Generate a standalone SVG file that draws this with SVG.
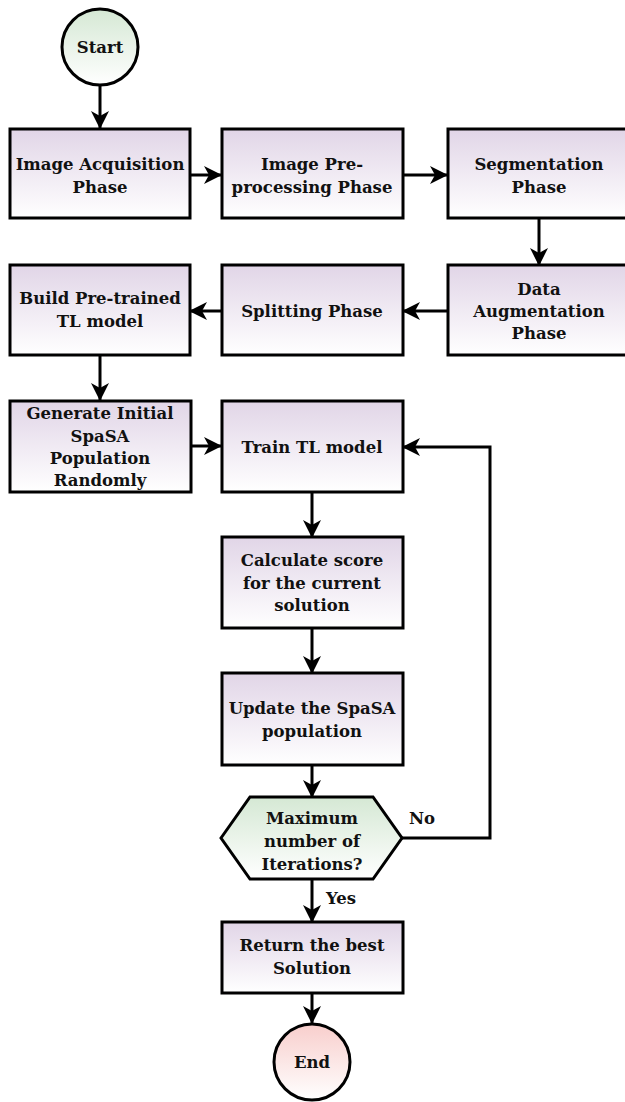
<svg xmlns="http://www.w3.org/2000/svg" width="625" height="1102" viewBox="0 0 625 1102">
<defs>
<linearGradient id="gP" x1="0" y1="0" x2="0" y2="1"><stop offset="0" stop-color="#e1d5e7"/><stop offset="1" stop-color="#ffffff"/></linearGradient>
<linearGradient id="gG" x1="0" y1="0" x2="0" y2="1"><stop offset="0" stop-color="#d5e8d4"/><stop offset="1" stop-color="#ffffff"/></linearGradient>
<linearGradient id="gR" x1="0" y1="0" x2="0" y2="1"><stop offset="0" stop-color="#f8cecc"/><stop offset="1" stop-color="#ffffff"/></linearGradient>
<marker id="ah" viewBox="0 0 18 18" refX="17" refY="9" markerWidth="18" markerHeight="18" markerUnits="userSpaceOnUse" orient="auto">
<path d="M0,0 L18,9 L0,18 L5,9 z" fill="#000"/>
</marker>
</defs>
<style>
.box{fill:url(#gP);stroke:#000;stroke-width:3}
.t{font-family:"DejaVu Serif","Liberation Serif",serif;font-weight:bold;font-size:16.5px;fill:#111;text-anchor:middle}
.c{fill:none;stroke:#000;stroke-width:3;marker-end:url(#ah)}
</style>
<g id="connectors">
<line class="c" x1="100" y1="85" x2="100" y2="128"/>
<line class="c" x1="190" y1="175" x2="221" y2="175"/>
<line class="c" x1="403" y1="175" x2="447" y2="175"/>
<line class="c" x1="539" y1="219" x2="539" y2="265"/>
<line class="c" x1="447" y1="311" x2="403" y2="311"/>
<line class="c" x1="221" y1="311" x2="190" y2="311"/>
<line class="c" x1="100" y1="355" x2="100" y2="400"/>
<line class="c" x1="191" y1="446" x2="221" y2="446"/>
<line class="c" x1="312" y1="492" x2="312" y2="537"/>
<line class="c" x1="312" y1="628" x2="312" y2="673"/>
<line class="c" x1="312" y1="765" x2="312" y2="797"/>
<line class="c" x1="312" y1="879" x2="312" y2="922"/>
<line class="c" x1="312" y1="993" x2="312" y2="1023"/>
<polyline class="c" points="402,838 490,838 490,447 403,447"/>
<text class="t" x="422" y="824">No</text>
<text class="t" x="341" y="904">Yes</text>
</g>
<g id="start">
<circle cx="100" cy="47" r="38" fill="url(#gG)" stroke="#000" stroke-width="3"/>
<text class="t" x="100" y="53">Start</text>
</g>
<g id="acq">
<rect class="box" x="10" y="129" width="180" height="89"/>
<text class="t" x="100" y="170">Image Acquisition</text>
<text class="t" x="100" y="193">Phase</text>
</g>
<g id="pre">
<rect class="box" x="222" y="129" width="181" height="89"/>
<text class="t" x="312" y="170">Image Pre-</text>
<text class="t" x="312" y="193">processing Phase</text>
</g>
<g id="seg">
<rect class="box" x="448" y="129" width="181" height="89"/>
<text class="t" x="539" y="170">Segmentation</text>
<text class="t" x="539" y="193">Phase</text>
</g>
<g id="aug">
<rect class="box" x="448" y="265" width="181" height="90"/>
<text class="t" x="539" y="295">Data</text>
<text class="t" x="539" y="317">Augmentation</text>
<text class="t" x="539" y="339">Phase</text>
</g>
<g id="split">
<rect class="box" x="222" y="265" width="181" height="90"/>
<text class="t" x="312" y="317">Splitting Phase</text>
</g>
<g id="build">
<rect class="box" x="10" y="265" width="180" height="90"/>
<text class="t" x="100" y="304">Build Pre-trained</text>
<text class="t" x="100" y="327">TL model</text>
</g>
<g id="gen">
<rect class="box" x="10" y="401" width="181" height="91"/>
<text class="t" x="100" y="419">Generate Initial</text>
<text class="t" x="100" y="442">SpaSA</text>
<text class="t" x="100" y="464">Population</text>
<text class="t" x="100" y="486">Randomly</text>
</g>
<g id="train">
<rect class="box" x="222" y="401" width="181" height="91"/>
<text class="t" x="312" y="453">Train TL model</text>
</g>
<g id="calc">
<rect class="box" x="222" y="537" width="181" height="91"/>
<text class="t" x="312" y="566">Calculate score</text>
<text class="t" x="312" y="589">for the current</text>
<text class="t" x="312" y="611">solution</text>
</g>
<g id="update">
<rect class="box" x="222" y="673" width="181" height="92"/>
<text class="t" x="312" y="714">Update the SpaSA</text>
<text class="t" x="312" y="737">population</text>
</g>
<g id="decision">
<polygon points="221,838 250,797 373,797 402,838 373,879 250,879" fill="url(#gG)" stroke="#000" stroke-width="3"/>
<text class="t" x="312" y="824">Maximum</text>
<text class="t" x="312" y="847">number of</text>
<text class="t" x="312" y="870">Iterations?</text>
</g>
<g id="ret">
<rect class="box" x="222" y="922" width="181" height="71"/>
<text class="t" x="312" y="951">Return the best</text>
<text class="t" x="312" y="974">Solution</text>
</g>
<g id="end">
<circle cx="312" cy="1062" r="38" fill="url(#gR)" stroke="#000" stroke-width="3"/>
<text class="t" x="312" y="1068">End</text>
</g>
</svg>
